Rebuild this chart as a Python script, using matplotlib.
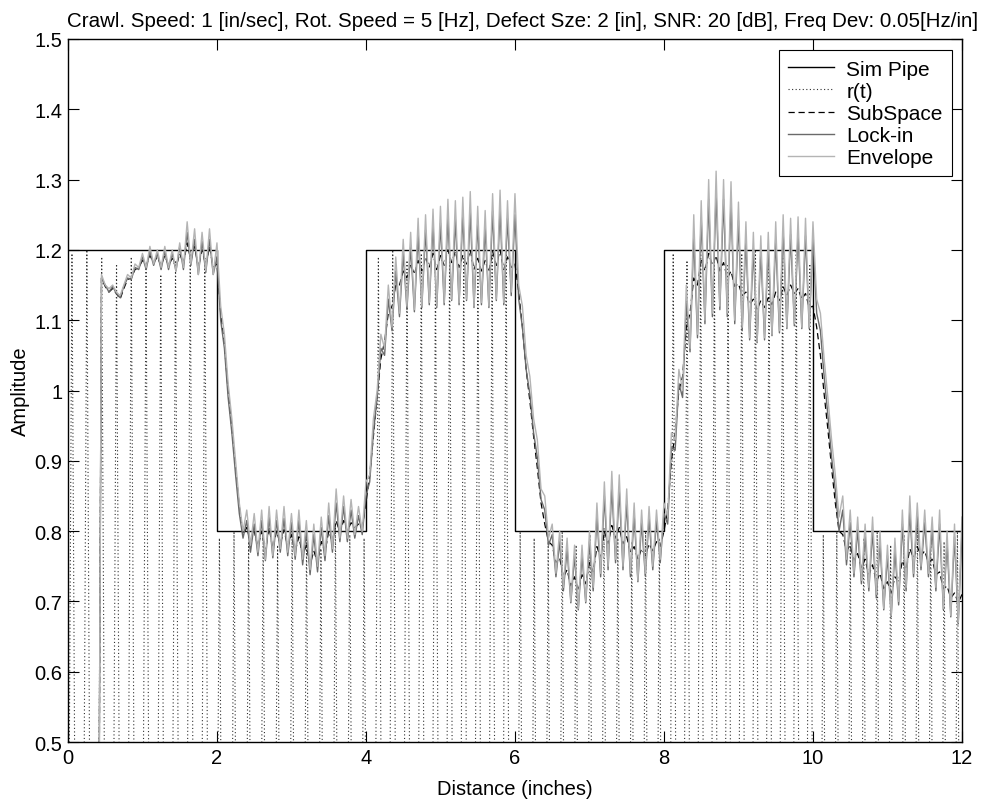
import numpy as np
import matplotlib
matplotlib.use("Agg")
import matplotlib.pyplot as plt
from matplotlib.ticker import FormatStrFormatter

plt.rcParams['font.family'] = ['Liberation Sans', 'DejaVu Sans']

# ---------------- data ----------------
title = ("Crawl. Speed: 1 [in/sec], Rot. Speed = 5 [Hz], Defect Sze: 2 [in], "
         "SNR: 20 [dB], Freq Dev: 0.05[Hz/in]")

# simulated pipe (square profile)
pipe_x = [0, 2, 2, 4, 4, 6, 6, 8, 8, 10, 10, 12]
pipe_y = [1.2, 1.2, 0.8, 0.8, 1.2, 1.2, 0.8, 0.8, 1.2, 1.2, 0.8, 0.8]

# r(t): carrier peaks (position, height); troughs fall below the view
rt_peak_x = [0.054, 0.254, 0.453, 0.652, 0.850, 1.048, 1.246, 1.444, 1.641, 1.837,
             2.033, 2.229, 2.425, 2.620, 2.814, 3.009, 3.203, 3.396, 3.590, 3.783,
             3.975, 4.167, 4.359, 4.551, 4.742, 4.933, 5.123, 5.313, 5.503, 5.693,
             5.881, 6.070, 6.258, 6.446, 6.634, 6.821, 7.008, 7.195, 7.381, 7.568,
             7.753, 7.938, 8.124, 8.309, 8.493, 8.677, 8.860, 9.044, 9.228, 9.410,
             9.593, 9.775, 9.958, 10.139, 10.320, 10.501, 10.682, 10.862, 11.043, 11.223,
             11.402, 11.581, 11.760, 11.939]
rt_peak_y = [1.195, 1.200, 1.190, 1.180, 1.190, 1.175, 1.165, 1.185, 1.200, 1.190,
             0.790, 0.800, 0.785, 0.795, 0.780, 0.800, 0.790, 0.775, 0.805, 0.795,
             0.790, 1.190, 1.200, 1.185, 1.195, 1.180, 1.200, 1.190, 1.175, 1.195,
             1.200, 0.800, 0.790, 0.785, 0.800, 0.780, 0.795, 0.805, 0.790, 0.785,
             0.800, 0.790, 1.195, 1.185, 1.200, 1.190, 1.180, 1.195, 1.200, 1.185,
             1.190, 1.200, 1.180, 0.795, 0.800, 0.785, 0.790, 0.800, 0.780, 0.795,
             0.805, 0.790, 0.785, 0.800]
rt_trough = -0.8

# estimator outputs, sampled every 0.05 in starting at 0.40 in
est_start, est_step = 0.40, 0.05

envelope = [
    0.00, 1.165, 1.150, 1.145, 1.150, 1.140, 1.135, 1.150, 1.165, 1.160, 1.180, 1.175,
    1.195, 1.175, 1.205, 1.180, 1.200, 1.175, 1.205, 1.175, 1.200, 1.170, 1.210, 1.175, 1.240, 1.180, 1.230, 1.165, 1.225, 1.170, 1.230, 1.165,
    1.210, 1.120, 1.080, 1.010, 0.960, 0.900, 0.840, 0.800, 0.830, 0.780, 0.825, 0.770, 0.830, 0.760, 0.835, 0.765, 0.830, 0.775, 0.835, 0.770,
    0.825, 0.765, 0.830, 0.760, 0.815, 0.745, 0.810, 0.750, 0.820, 0.765, 0.840, 0.775, 0.860, 0.790, 0.850, 0.790, 0.845, 0.795, 0.835, 0.800,
    0.870, 0.880, 0.960, 1.000, 1.080, 1.060, 1.150, 1.090, 1.190, 1.110, 1.215, 1.120, 1.225, 1.115, 1.245, 1.120, 1.250, 1.125, 1.258, 1.120,
    1.262, 1.125, 1.272, 1.130, 1.270, 1.125, 1.275, 1.130, 1.283, 1.120, 1.262, 1.125, 1.256, 1.120, 1.280, 1.130, 1.285, 1.125, 1.270, 1.140,
    1.280, 1.150, 1.120, 1.050, 1.020, 0.960, 0.930, 0.860, 0.850, 0.790, 0.810, 0.740, 0.800, 0.720, 0.790, 0.700, 0.780, 0.690, 0.780, 0.700,
    0.800, 0.720, 0.840, 0.740, 0.870, 0.750, 0.885, 0.760, 0.880, 0.750, 0.860, 0.740, 0.840, 0.730, 0.830, 0.740, 0.835, 0.750, 0.830, 0.760,
    0.840, 0.820, 0.940, 0.930, 1.030, 1.000, 1.150, 1.060, 1.250, 1.080, 1.270, 1.100, 1.300, 1.110, 1.312, 1.120, 1.300, 1.110, 1.297, 1.100,
    1.268, 1.090, 1.240, 1.075, 1.225, 1.070, 1.220, 1.075, 1.225, 1.080, 1.240, 1.085, 1.250, 1.090, 1.245, 1.095, 1.247, 1.090, 1.245, 1.090,
    1.240, 1.130, 1.110, 1.045, 0.990, 0.930, 0.880, 0.820, 0.850, 0.760, 0.830, 0.740, 0.820, 0.730, 0.810, 0.720, 0.820, 0.710, 0.800, 0.690,
    0.780, 0.680, 0.790, 0.700, 0.830, 0.720, 0.850, 0.740, 0.840, 0.750, 0.830, 0.740, 0.820, 0.720, 0.830, 0.690, 0.800, 0.680, 0.810, 0.670,
    0.820]

lockin = [
    0.00, 1.160, 1.150, 1.140, 1.148, 1.138, 1.132, 1.148, 1.160, 1.158, 1.175, 1.172,
    1.190, 1.172, 1.198, 1.178, 1.195, 1.172, 1.198, 1.172, 1.195, 1.170, 1.205, 1.172, 1.225, 1.178, 1.215, 1.165, 1.212, 1.168, 1.215, 1.165,
    1.190, 1.100, 1.060, 0.990, 0.940, 0.880, 0.825, 0.790, 0.815, 0.770, 0.810, 0.765, 0.815, 0.758, 0.820, 0.762, 0.815, 0.770, 0.818, 0.765,
    0.812, 0.760, 0.815, 0.752, 0.800, 0.738, 0.795, 0.742, 0.805, 0.758, 0.822, 0.770, 0.840, 0.785, 0.835, 0.785, 0.830, 0.790, 0.822, 0.795,
    0.850, 0.870, 0.940, 0.990, 1.060, 1.050, 1.130, 1.085, 1.170, 1.105, 1.195, 1.115, 1.205, 1.112, 1.222, 1.118, 1.228, 1.122, 1.235, 1.118,
    1.238, 1.122, 1.245, 1.128, 1.244, 1.122, 1.250, 1.128, 1.255, 1.118, 1.238, 1.122, 1.232, 1.118, 1.255, 1.128, 1.258, 1.122, 1.245, 1.135,
    1.250, 1.130, 1.090, 1.030, 0.995, 0.940, 0.905, 0.845, 0.830, 0.780, 0.795, 0.735, 0.785, 0.715, 0.775, 0.698, 0.765, 0.688, 0.765, 0.698,
    0.785, 0.715, 0.822, 0.735, 0.850, 0.745, 0.862, 0.755, 0.858, 0.745, 0.840, 0.735, 0.822, 0.728, 0.812, 0.736, 0.818, 0.745, 0.815, 0.755,
    0.825, 0.810, 0.920, 0.915, 1.010, 0.990, 1.125, 1.055, 1.220, 1.075, 1.245, 1.095, 1.272, 1.105, 1.282, 1.115, 1.272, 1.105, 1.268, 1.095,
    1.242, 1.085, 1.215, 1.072, 1.202, 1.068, 1.198, 1.072, 1.202, 1.078, 1.215, 1.082, 1.225, 1.088, 1.222, 1.092, 1.222, 1.088, 1.220, 1.088,
    1.215, 1.110, 1.085, 1.020, 0.965, 0.905, 0.858, 0.800, 0.830, 0.752, 0.812, 0.735, 0.802, 0.725, 0.792, 0.715, 0.800, 0.705, 0.782, 0.688,
    0.765, 0.678, 0.772, 0.695, 0.810, 0.715, 0.828, 0.735, 0.822, 0.745, 0.812, 0.735, 0.802, 0.715, 0.810, 0.688, 0.782, 0.678, 0.792, 0.668,
    0.800]

subspace = [
    0.00, 1.160, 1.148, 1.140, 1.145, 1.138, 1.130, 1.145, 1.158, 1.160, 1.172, 1.175,
    1.185, 1.178, 1.192, 1.182, 1.190, 1.178, 1.192, 1.178, 1.188, 1.175, 1.195, 1.180, 1.210, 1.185, 1.205, 1.175, 1.200, 1.178, 1.205, 1.175,
    1.180, 1.110, 1.065, 1.000, 0.945, 0.890, 0.835, 0.795, 0.805, 0.785, 0.800, 0.778, 0.800, 0.772, 0.805, 0.775, 0.800, 0.782, 0.802, 0.778,
    0.795, 0.772, 0.792, 0.765, 0.780, 0.752, 0.772, 0.755, 0.785, 0.770, 0.800, 0.785, 0.815, 0.798, 0.815, 0.800, 0.812, 0.805, 0.810, 0.805,
    0.840, 0.880, 0.935, 0.990, 1.045, 1.070, 1.110, 1.120, 1.150, 1.150, 1.170, 1.160, 1.180, 1.165, 1.185, 1.170, 1.190, 1.175, 1.195, 1.172,
    1.192, 1.178, 1.200, 1.182, 1.198, 1.175, 1.192, 1.180, 1.200, 1.172, 1.188, 1.170, 1.185, 1.168, 1.198, 1.178, 1.200, 1.172, 1.190, 1.175,
    1.180, 1.140, 1.090, 1.030, 0.985, 0.935, 0.890, 0.840, 0.810, 0.785, 0.780, 0.755, 0.762, 0.735, 0.745, 0.722, 0.735, 0.715, 0.738, 0.725,
    0.755, 0.742, 0.778, 0.762, 0.800, 0.782, 0.808, 0.790, 0.805, 0.782, 0.792, 0.770, 0.778, 0.760, 0.775, 0.765, 0.782, 0.772, 0.785, 0.778,
    0.800, 0.830, 0.900, 0.940, 1.000, 1.020, 1.090, 1.110, 1.160, 1.150, 1.185, 1.170, 1.195, 1.178, 1.192, 1.170, 1.182, 1.160, 1.170, 1.148,
    1.152, 1.135, 1.140, 1.122, 1.130, 1.115, 1.128, 1.118, 1.132, 1.122, 1.140, 1.128, 1.148, 1.135, 1.150, 1.138, 1.145, 1.130, 1.138, 1.118,
    1.120, 1.090, 1.050, 0.995, 0.945, 0.890, 0.840, 0.800, 0.795, 0.772, 0.780, 0.758, 0.768, 0.748, 0.760, 0.738, 0.752, 0.728, 0.740, 0.718,
    0.728, 0.712, 0.735, 0.728, 0.758, 0.745, 0.775, 0.762, 0.778, 0.765, 0.772, 0.755, 0.760, 0.738, 0.742, 0.718, 0.722, 0.705, 0.712, 0.698,
    0.710]

# ---------------- build traces ----------------
est_x = est_start + est_step * np.arange(len(envelope))

# r(t): alternate trough / peak, troughs half way between peaks
px = np.array(rt_peak_x)
mids = (px[:-1] + px[1:]) / 2
tr_x = np.concatenate([[px[0] - (mids[0] - px[0])], mids, [px[-1] + (px[-1] - mids[-1])]])
rt_x = np.empty(len(px) + len(tr_x))
rt_y = np.empty_like(rt_x)
rt_x[0::2] = tr_x
rt_y[0::2] = rt_trough
rt_x[1::2] = px
rt_y[1::2] = rt_peak_y

# ---------------- plot ----------------
FS = 14.5
fig = plt.figure(figsize=(9.82, 8.03), dpi=100)
ax = fig.add_axes([0.0692, 0.0747, 0.9104, 0.8755])

ax.plot(pipe_x, pipe_y, color='black', lw=1.0, label='Sim Pipe')
ax.plot(rt_x, rt_y, color='#303030', lw=0.8, ls=(0, (1, 2.2)), label='r(t)')
ax.plot(est_x, subspace, color='black', lw=0.9, ls=(0, (5, 3)), label='SubSpace')
ax.plot(est_x, lockin, color='#6a6a6a', lw=1.0, label='Lock-in')
ax.plot(est_x, envelope, color='#b4b4b4', lw=1.0, label='Envelope')

ax.set_xlim(0, 12)
ax.set_ylim(0.5, 1.5)
ax.set_xticks(np.arange(0, 13, 2))
ax.set_yticks(np.arange(0.5, 1.51, 0.1))
ax.yaxis.set_major_formatter(FormatStrFormatter('%g'))
ax.tick_params(direction='in', top=True, right=True, length=8, width=0.8,
               labelsize=FS, pad=4)
for s in ax.spines.values():
    s.set_linewidth(1.0)

ax.set_title(title, fontsize=14.8, pad=9, x=0.508)
ax.set_xlabel('Distance (inches)', fontsize=FS, labelpad=9)
ax.set_ylabel('Amplitude', fontsize=FS, labelpad=3)

leg = ax.legend(loc='upper right', bbox_to_anchor=(0.989, 0.984), borderaxespad=0,
                fontsize=15, fancybox=False, framealpha=1, edgecolor='black',
                handlelength=2.2, handletextpad=0.6, labelspacing=0.15,
                borderpad=0.45)
leg.get_frame().set_linewidth(0.8)

fig.savefig('out.png', dpi=100)
